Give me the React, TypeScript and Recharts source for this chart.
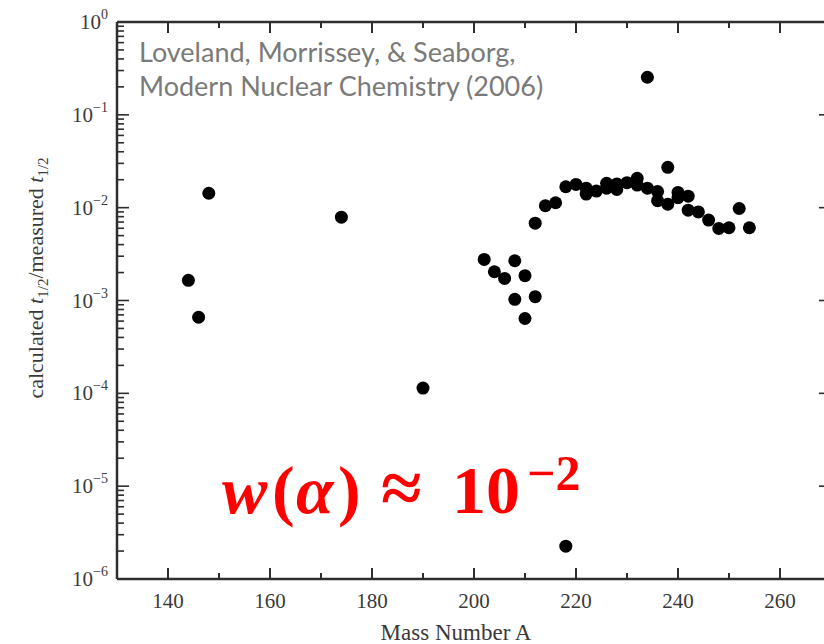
import { ScatterChart, Scatter, XAxis, YAxis } from "recharts";

// mass number A of each nucleus
const massNumbers = [
  144, 146, 148, 174, 190, 202, 204, 206, 208, 208, 210, 210, 212, 212, 214,
  216, 218, 218, 220, 222, 222, 224, 226, 226, 228, 228, 230, 232, 232, 234,
  234, 236, 236, 238, 238, 240, 240, 242, 242, 244, 246, 248, 250, 252, 254,
];

// calculated t1/2 / measured t1/2
const ratios = [
  1.65e-3, 6.6e-4, 1.43e-2, 7.9e-3, 1.14e-4, 2.77e-3, 2.04e-3, 1.73e-3, 2.68e-3,
  1.03e-3, 1.85e-3, 6.4e-4, 1.1e-3, 6.8e-3, 1.05e-2, 1.13e-2, 1.68e-2, 2.26e-6,
  1.78e-2, 1.62e-2, 1.4e-2, 1.51e-2, 1.83e-2, 1.62e-2, 1.8e-2, 1.57e-2, 1.86e-2,
  2.07e-2, 1.75e-2, 1.62e-2, 0.254, 1.49e-2, 1.19e-2, 2.72e-2, 1.09e-2, 1.46e-2,
  1.28e-2, 1.33e-2, 9.4e-3, 9.0e-3, 7.35e-3, 5.98e-3, 6.08e-3, 9.8e-3, 6.08e-3,
];

const xDomain = [130, 270];
const yDomain = [1e-6, 1];
const xMajorTicks = [140, 160, 180, 200, 220, 240, 260];
const xMinorTicks = [150, 170, 190, 210, 230, 250];
const yExponents = [-6, -5, -4, -3, -2, -1, 0];
const yMinorSteps = [2, 3, 4, 5, 6, 7, 8, 9];

const data = massNumbers.map((mass, i) => ({ mass, ratio: ratios[i] }));

const xTicks = [...xMajorTicks, ...xMinorTicks].sort((a, b) => a - b);
const yTicks: number[] = [];
yExponents.forEach((e) => {
  yTicks.push(Math.pow(10, e));
  if (e < 0) yMinorSteps.forEach((k) => yTicks.push(k * Math.pow(10, e)));
});

const isMajorY = (v: number) => {
  const l = Math.log10(v);
  return Math.abs(l - Math.round(l)) < 1e-6;
};

// tick marks are placed through the chart's own scales as tiny series
const bottomMarks = xTicks.map((v) => ({ mass: v, ratio: yDomain[0], major: xMajorTicks.includes(v) }));
const topMarks = xTicks.map((v) => ({ mass: v, ratio: yDomain[1], major: xMajorTicks.includes(v) }));
const leftMarks = yTicks.map((v) => ({ mass: xDomain[0], ratio: v, major: isMajorY(v) }));
const rightMarks = yTicks.map((v) => ({ mass: xDomain[1], ratio: v, major: isMajorY(v) }));

const AXIS = "#2e2e2e";
const TEXT = "#3a3a3a";
const SERIF = "'Liberation Serif', 'Times New Roman', serif";

const isMajorMark = (p: any) => Boolean(p.payload ? p.payload.major : p.major);

const UpMark = (p: any) => {
  const len = isMajorMark(p) ? 11 : 6;
  return <rect x={p.cx - 1} y={p.cy - len} width={2} height={len} fill={AXIS} />;
};
const DownMark = (p: any) => {
  const len = isMajorMark(p) ? 11 : 6;
  return <rect x={p.cx - 1} y={p.cy} width={2} height={len} fill={AXIS} />;
};
const RightwardMark = (p: any) => {
  const len = isMajorMark(p) ? 12 : 7;
  return <rect x={p.cx} y={p.cy - 0.8} width={len} height={1.6} fill={AXIS} />;
};
const LeftwardMark = (p: any) => {
  const len = isMajorMark(p) ? 12 : 7;
  return <rect x={p.cx - len} y={p.cy - 0.8} width={len} height={1.6} fill={AXIS} />;
};

const Dot = (p: any) => <circle cx={p.cx} cy={p.cy} r={6.5} fill="#000" />;

const BottomLabel = (props: any) => {
  const v = props.payload.value;
  if (!xMajorTicks.includes(v)) return <g />;
  return (
    <text x={props.x} y={Number(props.y) + 29} textAnchor="middle" fontSize={21} fontFamily={SERIF} fill={TEXT}>
      {String(v)}
    </text>
  );
};

const LeftLabel = (props: any) => {
  const v = props.payload.value;
  if (!isMajorY(v)) return <g />;
  const exp = Math.round(Math.log10(v));
  return (
    <text x={Number(props.x) - 9} y={Number(props.y) + 7} textAnchor="end" fontSize={21} fontFamily={SERIF} fill={TEXT}>
      10
      <tspan dy={-10} fontSize={14}>
        {exp < 0 ? "\u2212" + Math.abs(exp) : String(exp)}
      </tspan>
    </text>
  );
};

export default function App() {
  return (
    <div style={{ position: "fixed", left: 0, top: 0, width: 824, height: 644, overflow: "hidden", background: "#fff" }}>
      <ScatterChart width={850} height={644} margin={{ top: 0, right: 0, bottom: 0, left: 0 }}>
        <XAxis
          xAxisId="bottom"
          dataKey="mass"
          type="number"
          domain={xDomain}
          ticks={xTicks}
          interval={0}
          height={65}
          tickSize={0}
          tickMargin={0}
          tickLine={false}
          tick={BottomLabel}
          axisLine={{ stroke: AXIS, strokeWidth: 2.5 }}
        />
        <XAxis
          xAxisId="top"
          orientation="top"
          dataKey="mass"
          type="number"
          domain={xDomain}
          ticks={xTicks}
          height={22}
          tick={false}
          tickLine={false}
          axisLine={{ stroke: AXIS, strokeWidth: 2.5 }}
        />
        <YAxis
          yAxisId="left"
          dataKey="ratio"
          type="number"
          scale="log"
          domain={yDomain}
          ticks={yTicks}
          interval={0}
          width={117}
          tickSize={0}
          tickMargin={0}
          tickLine={false}
          tick={LeftLabel}
          axisLine={{ stroke: AXIS, strokeWidth: 2.5 }}
        />
        <YAxis
          yAxisId="right"
          orientation="right"
          dataKey="ratio"
          type="number"
          scale="log"
          domain={yDomain}
          ticks={yTicks}
          width={19}
          tick={false}
          tickLine={false}
          axisLine={false}
        />
        <Scatter data={bottomMarks} xAxisId="bottom" yAxisId="left" shape={UpMark} isAnimationActive={false} />
        <Scatter data={leftMarks} xAxisId="bottom" yAxisId="left" shape={RightwardMark} isAnimationActive={false} />
        <Scatter data={topMarks} xAxisId="top" yAxisId="right" shape={DownMark} isAnimationActive={false} />
        <Scatter data={rightMarks} xAxisId="top" yAxisId="right" shape={LeftwardMark} isAnimationActive={false} />
        <Scatter data={data} xAxisId="bottom" yAxisId="left" shape={Dot} isAnimationActive={false} />
      </ScatterChart>
      <svg width={824} height={644} style={{ position: "absolute", left: 0, top: 0, pointerEvents: "none" }}>
        <text transform="translate(43,278) rotate(-90)" textAnchor="middle" fontSize={22} fontFamily={SERIF} fill={TEXT}>
          calculated <tspan fontStyle="italic">t</tspan>
          <tspan fontSize={15} dy={5}>1/2</tspan>
          <tspan dy={-5}>/measured </tspan>
          <tspan fontStyle="italic">t</tspan>
          <tspan fontSize={15} dy={5}>1/2</tspan>
        </text>
        <text x={456} y={640} textAnchor="middle" fontSize={23} fontFamily={SERIF} fill={TEXT}>
          Mass Number A
        </text>
        <text fontFamily="Lato, 'Open Sans', sans-serif" fontSize={27} fill="#7a7a7a">
          <tspan x={139} y={62}>Loveland, Morrissey, &amp; Seaborg,</tspan>
          <tspan x={139} y={96}>Modern Nuclear Chemistry (2006)</tspan>
        </text>
        <g fontFamily={SERIF} fontWeight="bold" fill="#ff0000">
          <text x={222} y={513} fontSize={68} fontStyle="italic">w</text>
          <text x={272} y={513} fontSize={68}>(</text>
          <text x={296} y={513} fontSize={68} fontStyle="italic">α</text>
          <text x={338} y={513} fontSize={68}>)</text>
          <text x={381} y={513} fontSize={74}>≈</text>
          <text x={452} y={513} fontSize={68}>10</text>
          <text x={527} y={490} fontSize={50}>−2</text>
        </g>
      </svg>
    </div>
  );
}
